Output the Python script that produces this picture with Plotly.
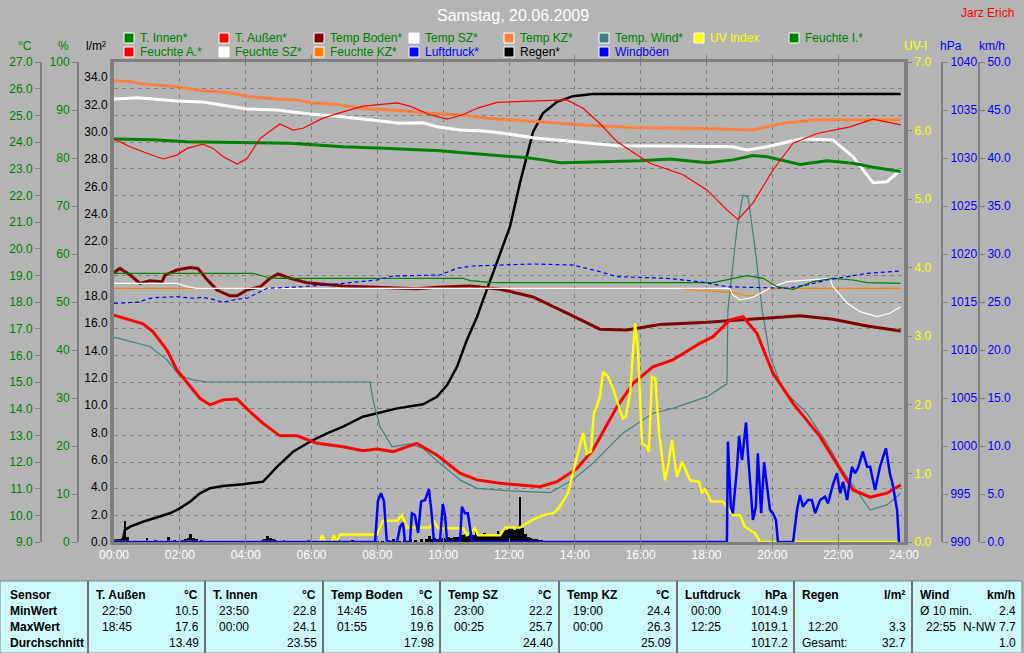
import plotly.graph_objects as go

W, H = 1024, 653
BG = "#B4B4B4"
GRID = "#808080"
FONT = "Liberation Sans, Arial, sans-serif"

# ------------------------------------------------------------------ data
hours_ticks = list(range(0, 25, 2))
hour_labels = ["%02d:00" % h for h in hours_ticks]

t_innen_h = [0.0, 1.18, 2.22, 5.35, 6.17, 6.96, 8.38, 9.9, 10.6, 11.51, 12.55, 13.03, 13.55, 14.25,
             15.98, 16.89, 18.02, 18.8, 19.41, 19.84, 20.45, 20.84, 21.66, 22.45, 23.06, 23.9]
t_innen = [24.11, 24.08, 24.01, 23.95, 23.89, 23.82, 23.76, 23.67, 23.6, 23.51, 23.41, 23.33, 23.22, 23.24,
           23.3, 23.36, 23.22, 23.33, 23.49, 23.45, 23.26, 23.16, 23.3, 23.2, 23.05, 22.89]

t_aussen_h = [0.0, 0.49, 0.88, 1.18, 1.61, 1.91, 2.31, 2.61, 2.92, 3.31, 3.74, 4.13, 4.53, 5.04, 5.56,
              6.17, 6.96, 7.56, 7.99, 8.48, 9.2, 9.81, 10.51, 11.03, 11.73, 12.33, 12.94, 13.46, 14.07,
              14.55, 15.28, 15.77, 16.37, 16.98, 17.8, 18.2, 18.71, 19.11, 19.53, 20.02, 20.63, 21.45,
              21.96, 22.45, 22.97, 23.48, 23.9]
t_aussen = [17.51, 17.33, 17.18, 16.89, 16.2, 15.45, 14.82, 14.39, 14.14, 14.33, 14.36, 13.89, 13.45, 12.98,
            12.98, 12.7, 12.57, 12.42, 12.49, 12.39, 12.7, 12.26, 11.58, 11.33, 11.2, 11.14, 11.07, 11.26,
            11.76, 12.45, 14.07, 14.95, 15.57, 15.83, 16.45, 16.7, 17.33, 17.45, 16.83, 15.33, 14.2,
            12.95, 11.95, 10.95, 10.68, 10.83, 11.14]

t_boden_h = [0.0, 0.18, 0.49, 0.79, 1.09, 1.46, 1.55, 1.91, 2.31, 2.55, 2.83, 3.13, 3.52, 3.74, 4.04,
             4.44, 4.74, 4.98, 5.35, 5.86, 6.96, 8.48, 9.2, 9.81, 10.82, 11.73, 12.73, 13.76, 14.76,
             15.58, 16.59, 18.02, 18.8, 19.84, 20.84, 21.84, 22.88, 23.9]
t_boden = [19.1, 19.26, 19.01, 18.7, 18.8, 18.76, 19.01, 19.2, 19.29, 19.26, 18.83, 18.45, 18.23, 18.23,
           18.45, 18.57, 18.89, 19.05, 18.89, 18.72, 18.6, 18.55, 18.5, 18.55, 18.6, 18.48, 18.19, 17.58,
           16.98, 16.95, 17.16, 17.24, 17.3, 17.39, 17.48, 17.35, 17.1, 16.91]

t_sz_h = [0.0, 0.7, 1.18, 1.91, 2.7, 3.43, 4.04, 4.95, 5.95, 6.96, 7.78, 8.69, 9.39, 9.81, 10.51, 11.21,
          11.73, 12.73, 13.76, 15.28, 16.8, 18.8, 19.23, 19.84, 20.84, 21.84, 22.45, 23.06, 23.48, 23.9]
t_sz = [25.61, 25.66, 25.61, 25.54, 25.5, 25.36, 25.24, 25.2, 25.05, 24.95, 24.83, 24.7, 24.72, 24.57,
        24.45, 24.41, 24.35, 24.16, 24.04, 23.86, 23.85, 23.82, 23.7, 23.82, 24.11, 24.08, 23.45, 22.47,
        22.51, 22.95]

t_kz_h = [0.0, 0.49, 0.88, 1.91, 2.7, 3.43, 4.13, 4.95, 5.56, 5.95, 6.77, 7.56, 8.78, 9.6, 10.6, 11.33,
          12.94, 14.25, 15.77, 17.8, 19.41, 20.32, 21.36, 22.88, 23.9]
t_kz = [26.3, 26.26, 26.18, 26.07, 25.92, 25.86, 25.7, 25.61, 25.58, 25.47, 25.41, 25.26, 25.17, 25.08,
        25.01, 24.89, 24.76, 24.64, 24.54, 24.51, 24.45, 24.7, 24.83, 24.83, 24.83]

t_wind_h = [0.0, 0.49, 1.09, 1.61, 2.0, 2.4, 2.83, 7.78, 7.87, 8.08, 8.45, 8.99, 9.39, 9.9, 10.51, 11.03,
            12.03, 13.25, 13.94, 14.55, 15.46, 16.37, 16.98, 18.02, 18.62, 18.65, 18.93, 19.11, 19.26,
            19.47, 19.69, 19.93, 20.32, 21.05, 21.66, 22.06, 22.45, 22.97, 23.48, 23.9]
t_wind = [16.68, 16.51, 16.33, 15.83, 15.23, 15.08, 15.0, 15.0, 14.33, 13.32, 12.57, 12.68, 12.51, 11.95,
          11.33, 11.01, 10.92, 10.85, 11.33, 11.95, 13.08, 13.83, 14.01, 14.45, 14.93, 17.7, 20.82, 22.01,
          21.95, 20.07, 17.7, 15.95, 14.7, 13.83, 12.7, 11.82, 11.14, 10.2, 10.39, 10.83]

f_aussen_h = [0.0, 0.49, 0.88, 1.49, 1.91, 2.22, 2.7, 3.01, 3.31, 3.74, 4.04, 4.44, 5.04, 5.44, 5.74, 6.35,
              6.96, 7.56, 8.6, 8.99, 9.6, 10.12, 10.6, 11.03, 11.64, 13.76, 14.25, 14.76, 15.28, 16.28,
              17.29, 18.02, 18.62, 18.96, 19.41, 20.02, 20.63, 21.36, 22.36, 23.06, 23.9]
f_aussen = [83.96, 82.35, 81.3, 79.8, 80.6, 82.0, 82.9, 82.0, 80.3, 78.75, 79.9, 84.1, 87.1, 85.8, 86.2,
            88.3, 89.6, 90.8, 91.5, 90.8, 89.0, 88.1, 89.0, 90.35, 91.6, 92.1, 90.35, 87.2, 83.4, 78.9,
            76.5, 73.3, 69.2, 67.2, 70.6, 77.5, 83.1, 85.1, 86.5, 88.1, 86.9]

f_innen_h = [0.0, 4.22, 4.65, 4.95, 10.6, 10.82, 11.42, 11.73, 18.2, 18.8, 19.23, 19.72, 20.14, 20.63,
             21.24, 21.84, 22.45, 22.88, 23.9]
f_innen = [55.98, 55.98, 55.15, 54.94, 54.94, 54.44, 54.1, 54.02, 54.02, 54.94, 55.48, 54.94, 53.19, 52.65,
           54.23, 54.94, 54.58, 54.02, 53.9]

f_sz_h = [0.0, 1.91, 2.22, 2.52, 18.71, 18.8, 19.02, 19.41, 20.02, 20.45, 21.75, 21.84, 22.27, 22.66,
          23.18, 23.57, 23.9]
f_sz = [53.9, 53.9, 53.19, 52.85, 52.85, 51.46, 50.42, 50.98, 53.19, 54.23, 54.94, 53.19, 49.8, 47.98,
        46.94, 47.65, 49.02]

f_kz_h = [0.0, 17.3, 17.5, 18.8, 19.23, 19.53, 20.02, 23.9]
f_kz = [52.85, 52.85, 52.5, 52.02, 51.25, 51.46, 52.85, 52.85]

druck_h = [0.0, 0.7, 1.18, 1.91, 2.4, 2.7, 3.01, 3.31, 3.74, 4.04, 4.65, 5.13, 5.74, 6.96, 7.99, 8.48,
           9.9, 10.42, 10.91, 11.73, 12.73, 13.94, 14.76, 15.28, 16.8, 17.8, 18.62, 20.45, 21.05, 21.66,
           22.88, 23.9]
druck = [1014.86, 1014.97, 1015.45, 1015.55, 1015.39, 1015.49, 1015.28, 1014.97, 1015.28, 1015.39,
         1016.43, 1016.53, 1016.59, 1016.95, 1017.29, 1017.71, 1017.81, 1018.51, 1018.75, 1018.85,
         1018.96, 1018.85, 1018.16, 1017.64, 1017.47, 1017.11, 1016.59, 1016.43, 1016.77, 1017.29,
         1017.99, 1018.23]

regen_sum_h = [0.0, 0.27, 0.33, 0.49, 0.88, 1.4, 1.7, 2.0, 2.31, 2.61, 2.92, 3.31, 3.92, 4.53, 4.95, 5.44,
               5.95, 6.47, 6.96, 7.56, 7.99, 8.6, 9.39, 9.81, 10.12, 10.42, 10.72, 11.03, 11.21, 11.51,
               12.03, 12.33, 12.55, 12.73, 13.03, 13.46, 13.94, 14.55, 23.9]
regen_sum = [0.1, 0.15, 0.88, 1.12, 1.48, 1.85, 2.1, 2.46, 2.95, 3.56, 3.93, 4.09, 4.22, 4.41, 5.5, 6.6,
             7.33, 7.95, 8.43, 9.16, 9.41, 9.77, 10.07, 10.62, 11.48, 12.81, 14.77, 16.47, 17.69, 19.64,
             23.05, 26.22, 28.41, 29.99, 31.34, 32.19, 32.6, 32.75, 32.75]

regen_bar_time = ["00:05", "00:10", "00:15", "00:20", "00:25", "00:30", "00:35", "00:45", "00:55",
                  "01:00", "01:05", "01:15", "01:25", "01:40", "01:45", "01:50", "01:55", "02:00",
                  "02:05", "02:10", "02:15", "02:20", "02:25", "02:30", "02:35", "02:40", "02:45",
                  "02:55", "04:20", "04:30", "04:35", "04:40", "04:45", "04:50", "04:55", "05:00",
                  "05:10", "05:20", "05:35", "05:45", "05:55", "06:05", "06:20", "06:35", "06:50",
                  "07:00", "07:15", "07:25", "07:40", "07:50", "08:00", "08:10", "08:20", "08:30",
                  "08:40", "08:50", "09:00", "09:10", "09:20", "09:30", "09:35", "09:40", "09:45",
                  "09:50", "09:55", "10:00", "10:05", "10:10", "10:15", "10:20", "10:25", "10:30",
                  "10:35", "10:40", "10:45", "10:50", "10:55", "11:00", "11:05", "11:10", "11:15",
                  "11:20", "11:25", "11:30", "11:35", "11:40", "11:45", "11:50", "11:55", "12:00",
                  "12:05", "12:10", "12:15", "12:20", "12:25", "12:30", "12:35", "12:40", "12:45",
                  "12:50", "12:55", "13:00", "13:05", "13:15", "13:25", "13:35", "14:00"]
regen_bar = [0.05, 0.1, 0.3, 1.5, 0.4, 0.1, 0.05, 0.05, 0.1,
             0.3, 0.1, 0.15, 0.1, 0.4, 0.1, 0.15, 0.1, 0.1,
             0.15, 0.2, 0.3, 0.55, 0.3, 0.2, 0.1, 0.15, 0.1,
             0.05, 0.1, 0.15, 0.25, 0.45, 0.3, 0.2, 0.15, 0.1,
             0.15, 0.1, 0.1, 0.1, 0.15, 0.1, 0.1, 0.1, 0.15,
             0.1, 0.15, 0.1, 0.1, 0.1, 0.1, 0.1, 0.15, 0.2,
             0.1, 0.15, 0.2, 0.15, 0.2, 0.2, 0.45, 0.2, 0.3,
             0.2, 0.25, 0.3, 0.25, 0.35, 0.3, 0.4, 0.35, 0.4,
             0.5, 0.55, 0.45, 0.6, 0.5, 0.7, 0.55, 0.6, 0.65,
             0.5, 0.6, 0.55, 0.6, 0.8, 0.65, 0.9, 0.85, 1.0,
             1.1, 0.9, 1.2, 3.3, 1.0, 0.6, 0.4, 0.3, 0.25,
             0.2, 0.15, 0.15, 0.1, 0.1, 0.05, 0.05, 0.05]

boeen_h = [0.0, 7.93, 8.02, 8.11, 8.2, 8.29, 8.6, 8.69, 8.78, 8.84, 8.99, 9.05, 9.14, 9.24, 9.33, 9.45,
           9.57, 9.66, 9.72, 9.9, 9.99, 10.06, 10.12, 10.51, 10.57, 10.66, 10.75, 10.88, 18.62, 18.65,
           18.74, 18.8, 18.93, 18.99, 19.08, 19.2, 19.26, 19.35, 19.41, 19.5, 19.56, 19.66, 19.75, 19.84,
           19.93, 20.02, 20.11, 20.17, 20.63, 20.75, 20.84, 20.93, 21.08, 21.2, 21.3, 21.45, 21.6, 21.69,
           21.84, 21.96, 22.06, 22.15, 22.27, 22.42, 22.51, 22.6, 22.75, 22.88, 22.97, 23.12, 23.27,
           23.45, 23.57, 23.66, 23.79, 23.85]
boeen = [0, 0, 4.3, 5.07, 4.3, 0, 0, 1.6, 2.0, 0, 0, 2.99, 2.81, 0.94, 4.2, 4.38,
         5.49, 2.64, 0, 0, 3.96, 2.64, 0, 0, 3.68, 2.99, 2.99, 0, 0, 10.45,
         3.68, 2.99, 7.84, 11.04, 8.54, 12.43, 9.24, 5.07, 2.29, 3.68, 9.24, 2.99, 8.3, 5.76,
         3.33, 2.99, 2.29, 0, 0, 3.33, 4.9, 3.68, 4.38, 4.38, 2.99, 4.38, 4.72, 4.03,
         5.94, 7.16, 5.07, 6.28, 4.38, 7.84, 7.16, 7.68, 9.41, 7.84, 7.84, 5.42, 7.84,
         9.76, 7.16, 5.94, 3.33, 0]

uv_h = [0.0, 6.26, 6.32, 6.41, 6.62, 6.68, 6.77, 6.87, 7.99, 8.17, 8.6, 8.75, 8.9, 9.6, 9.72, 9.84, 10.6,
        10.72, 10.97, 11.06, 11.73, 11.88, 12.33, 12.7, 13.03, 13.34, 13.49, 13.79, 13.94, 14.1, 14.25,
        14.37, 14.49, 14.58, 14.67, 14.76, 14.86, 15.01, 15.16, 15.37, 15.46, 15.55, 15.68, 15.83,
        15.92, 16.04, 16.19, 16.25, 16.34, 16.44, 16.56, 16.74, 16.83, 16.95, 17.1, 17.26, 17.5, 17.77,
        17.86, 17.95, 18.14, 18.5, 18.8, 19.02, 19.17, 19.47, 19.63, 23.9]
uv = [0, 0, 0.1, 0, 0, 0.1, 0, 0.11, 0.11, 0.31, 0.31, 0.39, 0.21, 0.21, 0.3, 0.2, 0.2,
      0.1, 0.2, 0.1, 0.1, 0.21, 0.21, 0.32, 0.39, 0.42, 0.48, 0.71, 1.0, 1.29, 1.59,
      1.29, 1.32, 1.88, 1.98, 2.12, 2.48, 2.41, 2.24, 1.93, 1.8, 1.83, 2.17, 3.19,
      2.8, 1.44, 1.39, 1.32, 2.41, 2.39, 1.59, 0.9, 1.1, 1.49, 0.95, 1.17, 0.9, 0.88,
      0.71, 0.78, 0.59, 0.59, 0.39, 0.39, 0.22, 0.13, 0, 0]

# legend entries (row, column, colour, label, label colour)
legend_items = [
    (0, 0, "#008000", "T. Innen*", "#008000"), (0, 1, "#FF0000", "T. Außen*", "#008000"),
    (0, 2, "#800000", "Temp Boden*", "#008000"), (0, 3, "#FFFFFF", "Temp SZ*", "#008000"),
    (0, 4, "#FF8040", "Temp KZ*", "#008000"), (0, 5, "#408080", "Temp. Wind*", "#008000"),
    (0, 6, "#FFFF00", "UV Index", "#FFFF00"), (0, 7, "#008000", "Feuchte I.*", "#008000"),
    (1, 0, "#FF0000", "Feuchte A.*", "#008000"), (1, 1, "#FFFFFF", "Feuchte SZ*", "#008000"),
    (1, 2, "#FF8000", "Feuchte KZ*", "#008000"), (1, 3, "#0000FF", "Luftdruck*", "#0000FF"),
    (1, 4, "#000000", "Regen*", "#000000"), (1, 5, "#0000FF", "Windböen", "#0000FF"),
]

# statistics table
table_headers = [("Sensor", ""), ("T. Außen", "°C"), ("T. Innen", "°C"), ("Temp Boden", "°C"),
                 ("Temp SZ", "°C"), ("Temp KZ", "°C"), ("Luftdruck", "hPa"), ("Regen", "l/m²"),
                 ("Wind", "km/h")]
row_labels = ["MinWert", "MaxWert", "Durchschnitt"]
table_left = [["22:50", "18:45", ""], ["23:50", "00:00", ""], ["14:45", "01:55", ""],
              ["23:00", "00:25", ""], ["19:00", "00:00", ""], ["00:00", "12:25", ""],
              ["", "12:20", "Gesamt:"], ["Ø 10 min.", "22:55", ""]]
table_right = [["10.5", "17.6", "13.49"], ["22.8", "24.1", "23.55"], ["16.8", "19.6", "17.98"],
               ["22.2", "25.7", "24.40"], ["24.4", "26.3", "25.09"], ["1014.9", "1019.1", "1017.2"],
               ["", "3.3", "32.7"], ["2.4", "N-NW 7.7", "1.0"]]


def hm(s):
    h, m = s.split(":")
    return int(h) + int(m) / 60.0


# ------------------------------------------------------------------ figure
fig = go.Figure()

fig.add_trace(go.Bar(x=[hm(s) for s in regen_bar_time], y=regen_bar, width=0.085,
                     marker=dict(color="#000000", line=dict(width=0)), yaxis="y"))


def line(x, y, color, width, axis, dash=None):
    fig.add_trace(go.Scatter(x=x, y=y, mode="lines", yaxis=axis,
                             line=dict(color=color, width=width, dash=dash)))


line(f_kz_h, f_kz, "#FF8000", 1.2, "y3")
line(f_sz_h, f_sz, "#FFFFFF", 1.2, "y3")
line(f_innen_h, f_innen, "#008000", 1.2, "y3")
line(f_aussen_h, f_aussen, "#FF0000", 1.2, "y3")
line(druck_h, druck, "#0000FF", 1.2, "y5", dash="4px,3px")
line(t_wind_h, t_wind, "#408080", 1.2, "y2")
line(t_boden_h, t_boden, "#800000", 3, "y2")
line(t_kz_h, t_kz, "#FF8040", 3, "y2")
line(t_sz_h, t_sz, "#FFFFFF", 3, "y2")
line(t_innen_h, t_innen, "#008000", 3, "y2")
line(t_aussen_h, t_aussen, "#FF0000", 3, "y2")
line(boeen_h, boeen, "#0000FF", 2.5, "y6")
line(uv_h, uv, "#FFFF00", 2.5, "y4")
line(regen_sum_h, regen_sum, "#000000", 2.5, "y")

XD = [114 / W, 904 / W]
YD = [1 - 542 / H, 1 - 62 / H]


def px(x):
    return x / W


def py(y):
    return 1 - y / H


tickfont = dict(family=FONT, size=12)
common = dict(automargin=False, ticks="outside", ticklen=5, tickcolor=GRID, linecolor=GRID,
              showline=True, linewidth=2, zeroline=False, showgrid=False, fixedrange=True)

fig.update_layout(
    width=W, height=H, margin=dict(l=0, r=0, t=0, b=0),
    paper_bgcolor=BG, plot_bgcolor=BG, showlegend=False, bargap=0,
    font=dict(family=FONT, size=12),
    xaxis=dict(domain=XD, range=[0, 24], tickvals=hours_ticks, ticktext=hour_labels,
               showgrid=True, gridcolor=GRID, griddash="4px,4px", gridwidth=1,
               showline=True, linecolor=GRID, linewidth=3, mirror="allticks",
               ticks="inside", ticklen=4, tickcolor=GRID, zeroline=False,
               tickfont=dict(family=FONT, size=12, color="#FFFFFF"), automargin=False,
               fixedrange=True),
    yaxis=dict(domain=YD, range=[0, 35.097], tickvals=list(range(0, 35, 2)), tickformat=".1f",
               tickfont=dict(tickfont, color="#000000"), anchor="x", side="left",
               **dict(common, ticks="", linewidth=4)),
    yaxis2=dict(overlaying="y", anchor="free", position=41 / W, side="left", range=[9, 27],
                tickvals=list(range(9, 28)), tickformat=".1f",
                tickfont=dict(tickfont, color="#008000"), **dict(common, showgrid=True,
                gridcolor=GRID, griddash="4px,4px", gridwidth=1)),
    yaxis3=dict(overlaying="y", anchor="free", position=78 / W, side="left", range=[0, 100],
                tickvals=list(range(0, 101, 10)), tickformat="d",
                tickfont=dict(tickfont, color="#008000"), **common),
    yaxis4=dict(overlaying="y", anchor="x", side="right", range=[0, 7],
                tickvals=list(range(0, 8)), tickformat=".1f",
                tickfont=dict(tickfont, color="#FFFF00"), **dict(common, linewidth=4, ticklen=4)),
    yaxis5=dict(overlaying="y", anchor="free", position=942 / W, side="right", range=[990, 1040],
                tickvals=list(range(990, 1041, 5)), tickformat="d",
                tickfont=dict(tickfont, color="#0000FF"), **common),
    yaxis6=dict(overlaying="y", anchor="free", position=979 / W, side="right", range=[0, 50],
                tickvals=list(range(0, 51, 5)), tickformat=".1f",
                tickfont=dict(tickfont, color="#0000FF"), **common),
)

ann = []
shapes = []


def note(x, y, text, font, xanchor="left"):
    ann.append(dict(x=px(x), y=py(y), xref="paper", yref="paper", text=text, showarrow=False,
                    xanchor=xanchor, yanchor="middle", font=font))


# title and author
note(513, 15, "Samstag, 20.06.2009", dict(family=FONT, size=16, color="#FFFFFF"), "center")
note(1016, 13, "Jarz Erich", dict(family=FONT, size=12, color="#FF0000"), "right")

# axis unit labels
for x, txt, col in [(25, "°C", "#008000"), (63, "%", "#008000"), (96, "l/m²", "#000000"),
                    (915, "UV-I", "#FFFF00"), (951, "hPa", "#0000FF"), (992, "km/h", "#0000FF")]:
    note(x, 46, txt, dict(family=FONT, size=12, color=col), "center")

# legend
for row, col, c, label, tc in legend_items:
    x0 = 124 + 95 * col
    yc = 38 + 14 * row
    shapes.append(dict(type="rect", xref="paper", yref="paper", x0=px(x0), x1=px(x0 + 10),
                       y0=py(yc + 5), y1=py(yc - 5), fillcolor=c, line=dict(color="#FFFFFF", width=1)))
    note(x0 + 14, yc, label, dict(family=FONT, size=12, color=tc))

# table
shapes.append(dict(type="rect", xref="paper", yref="paper", x0=px(0), x1=px(1022), y0=py(653),
                   y1=py(581), fillcolor="#CCFAFA", line=dict(color="#808080", width=1), layer="below"))
col_edges = [0, 88, 205, 323, 440, 559, 677, 794, 912, 1022]
for xe in col_edges[1:-1]:
    shapes.append(dict(type="line", xref="paper", yref="paper", x0=px(xe), x1=px(xe), y0=py(653),
                       y1=py(581), line=dict(color="#707070", width=2)))
row_y = [595, 611, 627, 643]
bold = dict(family=FONT, size=12, color="#000000", weight="bold")
reg = dict(family=FONT, size=12, color="#000000")
note(8, row_y[0], "Sensor", bold)
for i, lab in enumerate(row_labels):
    note(8, row_y[i + 1], lab, bold)
for k in range(8):
    left = col_edges[k + 1]
    right = col_edges[k + 2]
    name, unit = table_headers[k + 1]
    note(left + 6, row_y[0], name, bold)
    note(right - 5, row_y[0], unit, bold, "right")
    for r in range(3):
        lt = table_left[k][r]
        if lt:
            off = 6 if lt in ("Gesamt:", "Ø 10 min.") else 12
            note(left + off, row_y[r + 1], lt, reg)
        rt = table_right[k][r]
        if rt:
            note(right - 4, row_y[r + 1], rt, reg, "right")

fig.update_layout(annotations=ann, shapes=shapes)

fig.write_html("out.html", include_plotlyjs=True, full_html=True,
               config={"displayModeBar": False, "staticPlot": True},
               post_script="document.body.style.margin='0';document.body.style.overflow='hidden';")
